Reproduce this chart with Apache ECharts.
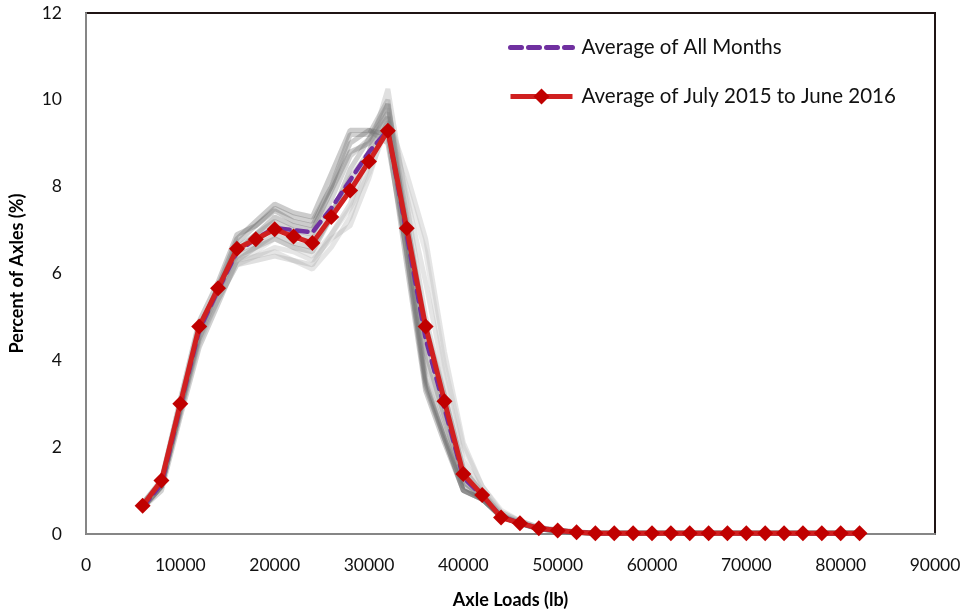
<!DOCTYPE html>
<html><head><meta charset="utf-8">
<script src="https://cdn.jsdelivr.net/npm/echarts@6/dist/echarts.min.js"></script>
<style>html,body{margin:0;padding:0;background:#fff}#c{width:971px;height:615px}</style>
</head><body><div id="c"></div>
<script>
const axleLoads = [6000,8000,10000,12000,14000,16000,18000,20000,22000,24000,26000,28000,30000,32000,34000,36000,38000,40000,42000,44000,46000,48000,50000,52000,54000,56000,58000,60000,62000,64000,66000,68000,70000,72000,74000,76000,78000,80000,82000];
const tail = [0.02,0.02,0.02,0.02,0.02,0.02,0.02,0.02,0.02,0.02,0.02,0.02,0.02,0.02,0.02];
const avgJuly2015June2016 = [0.65,1.23,3.0,4.78,5.66,6.57,6.79,7.02,6.85,6.70,7.30,7.91,8.58,9.29,7.04,4.78,3.06,1.38,0.90,0.38,0.25,0.13,0.08,0.04].concat(tail);
const avgAllMonths = [0.62,1.15,2.95,4.7,5.62,6.5,6.8,7.05,7.0,6.95,7.5,8.15,8.8,9.3,6.9,4.5,2.9,1.3,0.88,0.4,0.25,0.13,0.08,0.04].concat(tail);
const month01 = [0.6,1.1,2.9,4.6,5.7,6.8,7.2,7.6,7.4,7.3,8.3,9.3,9.3,9.0,6.5,3.5,2.2,1.0,0.8,0.4,0.25,0.12,0.07,0.04].concat(tail);
const month02 = [0.6,1.1,2.8,4.5,5.6,6.7,7.1,7.5,7.3,7.2,8.0,9.2,9.2,10.0,6.8,3.6,2.3,1.1,0.8,0.4,0.25,0.12,0.07,0.04].concat(tail);
const month03 = [0.7,1.2,2.9,4.5,5.4,6.2,6.3,6.4,6.3,6.2,6.9,7.6,8.8,10.25,7.6,5.0,3.2,1.5,0.95,0.45,0.28,0.14,0.08,0.04].concat(tail);
const month04 = [0.7,1.2,3.0,4.6,5.5,6.3,6.4,6.6,6.5,6.3,6.8,7.1,8.2,9.6,8.3,6.8,4.2,2.1,1.1,0.5,0.3,0.15,0.09,0.05].concat(tail);
const month05 = [0.6,1.1,2.9,4.7,5.7,6.5,6.9,7.3,7.1,7.0,7.9,8.8,9.0,9.6,6.4,3.4,2.2,1.0,0.8,0.4,0.24,0.12,0.07,0.04].concat(tail);
const month06 = [0.65,1.2,3.0,4.8,5.6,6.4,6.6,6.9,6.7,6.6,7.3,8.0,8.6,9.5,7.2,4.8,3.2,1.5,0.95,0.45,0.27,0.13,0.08,0.04].concat(tail);
const month07 = [0.6,1.1,2.8,4.4,5.4,6.2,6.4,6.5,6.3,6.1,6.6,7.3,8.5,9.8,7.8,5.8,3.6,1.7,1.0,0.5,0.3,0.15,0.09,0.05].concat(tail);
const month08 = [0.6,1.0,2.7,4.3,5.3,6.3,6.6,6.8,6.6,6.5,7.3,8.4,9.1,9.9,7.0,4.2,2.7,1.2,0.85,0.4,0.25,0.12,0.07,0.04].concat(tail);
const month09 = [0.7,1.25,3.1,4.9,5.8,6.9,7.1,7.45,7.2,7.1,8.0,9.0,9.3,9.2,6.2,3.3,2.1,1.0,0.8,0.4,0.24,0.12,0.07,0.04].concat(tail);
const month10 = [0.65,1.2,3.0,4.7,5.5,6.3,6.5,6.8,6.6,6.4,6.9,7.5,8.3,9.4,8.0,6.5,3.9,2.0,1.1,0.55,0.3,0.15,0.09,0.05].concat(tail);
const month11 = [0.6,1.1,2.9,4.6,5.6,6.6,6.9,7.2,7.0,6.9,7.7,8.7,9.1,9.7,6.9,4.0,2.6,1.2,0.85,0.42,0.25,0.13,0.08,0.04].concat(tail);
const month12 = [0.65,1.15,3.0,4.7,5.6,6.5,6.7,7.1,6.9,6.8,7.4,8.2,8.8,9.9,7.3,4.6,2.9,1.3,0.9,0.42,0.26,0.13,0.08,0.04].concat(tail);
const monthlySeries = [month01,month02,month03,month04,month05,month06,month07,month08,month09,month10,month11,month12];
const grayShades = ['#555','#666','#999','#aaa','#555','#777','#aaa','#666','#555','#bbb','#777','#888'];

const FONT = 'Lato, "Open Sans", sans-serif';
const pairs = vals => axleLoads.map((x,i)=>[x, vals[i]]);

const series = monthlySeries.map((vals, k) => ({
  name: 'Month ' + (k+1), type: 'line', data: pairs(vals), symbol: 'none', silent: true,
  lineStyle: { color: grayShades[k], width: 5, opacity: 0.3 }, z: 1
}));
series.push({
  name: 'Average of All Months', type: 'line', data: pairs(avgAllMonths), symbol: 'none',
  itemStyle: { color: '#7030a0' },
  lineStyle: { color: '#7030a0', width: 4.5, type: [11, 7], cap: 'round' }, z: 3
});
series.push({
  name: 'Average of July 2015 to June 2016', type: 'line', data: pairs(avgJuly2015June2016),
  symbol: 'diamond', symbolSize: 16, itemStyle: { color: '#c00000' },
  lineStyle: { color: '#d02020', width: 5 }, z: 4
});

const chart = echarts.init(document.getElementById('c'), null, { renderer: 'canvas' });
chart.setOption({
  animation: false,
  backgroundColor: '#fff',
  textStyle: { fontFamily: FONT },
  grid: { left: 86, right: 36, top: 13, bottom: 81, show: true, borderColor: '#1f1414', borderWidth: 2, backgroundColor: 'transparent' },
  legend: {
    data: [
      { name: 'Average of All Months', itemStyle: { opacity: 0 }, lineStyle: { width: 5 } },
      { name: 'Average of July 2015 to June 2016', lineStyle: { width: 5 } }
    ],
    orient: 'vertical', left: 503, top: 32, itemWidth: 62, itemHeight: 20, itemGap: 28,
    textStyle: { fontFamily: FONT, fontSize: 20.5, color: '#111', padding: [0, 0, 0, 4] }
  },
  xAxis: {
    type: 'value', min: 0, max: 90000, interval: 10000,
    name: 'Axle Loads (lb)', nameLocation: 'middle', nameGap: 57,
    nameTextStyle: { fontFamily: FONT, fontSize: 18, fontWeight: 'bold', color: '#000' },
    axisLine: { lineStyle: { color: '#868686', width: 2 } },
    axisTick: { show: false }, splitLine: { show: false },
    axisLabel: { fontFamily: FONT, fontSize: 17.5, color: '#111', margin: 22, formatter: v => String(v) }
  },
  yAxis: {
    type: 'value', min: 0, max: 12, interval: 2,
    name: 'Percent of Axles (%)', nameLocation: 'middle', nameGap: 60, nameRotate: 90,
    nameTextStyle: { fontFamily: FONT, fontSize: 18, fontWeight: 'bold', color: '#000' },
    axisLine: { show: true, lineStyle: { color: '#868686', width: 2 } },
    axisTick: { show: false }, splitLine: { show: false },
    axisLabel: { fontFamily: FONT, fontSize: 17.5, color: '#111', margin: 24 }
  },
  series: series
});
</script></body></html>
